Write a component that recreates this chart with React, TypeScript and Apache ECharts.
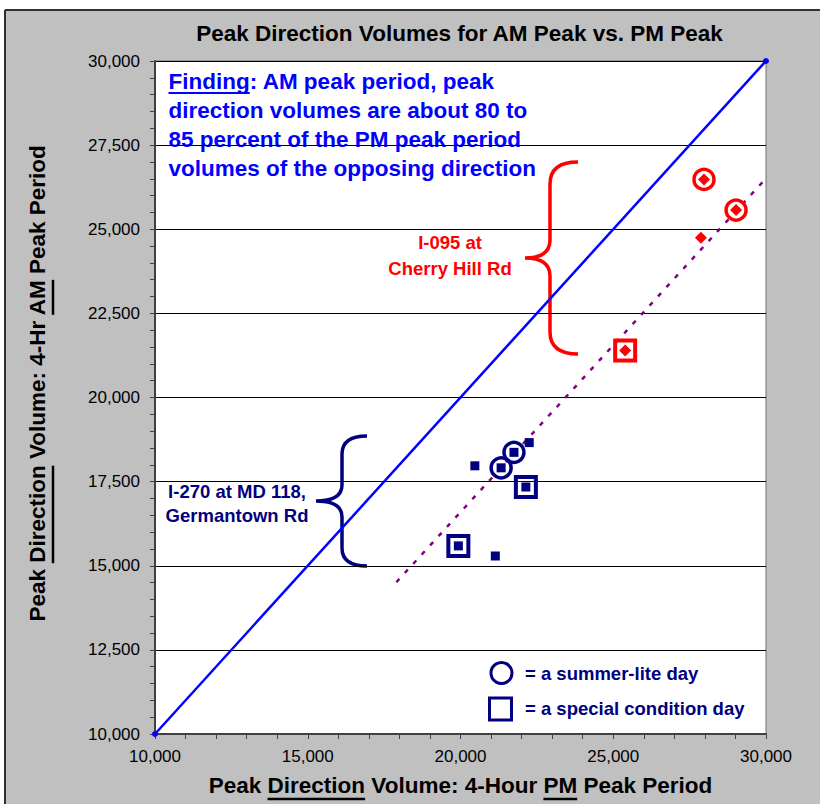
import React, { useEffect, useRef } from "react";
import * as echarts from "echarts";

// ---------- data ----------
const xTickValues = [10000, 15000, 20000, 25000, 30000];
const yTickValues = [10000, 12500, 15000, 17500, 20000, 22500, 25000, 27500, 30000];

// I-270 at MD 118, Germantown Rd (PM peak volume, AM peak volume)
const i270PM = [22250, 20470, 21330, 21750, 22140, 19930, 21140];
const i270AM = [18660, 17970, 17910, 18370, 17340, 15590, 15290];
const i270Day = ["", "", "summer", "summer", "special", "special", ""];

// I-095 at Cherry Hill Rd
const i095PM = [27970, 29020, 27870, 25390];
const i095AM = [26480, 25570, 24750, 21400];
const i095Day = ["summer", "summer", "", "special"];

// equality line and trend line
const equalPM = [10000, 30000];
const equalAM = [10000, 30000];
const trendPM = [17900, 30000];
const trendAM = [14510, 26510];

const titleText = "Peak Direction Volumes for AM Peak vs. PM Peak";
const xTitleParts = ["Peak ", "Direction", " Volume: 4-Hour ", "PM", " Peak Period"];
const yTitleParts = ["Peak ", "Direction", " Volume: 4-Hr ", "AM", " Peak Period"];
const findingLines = [
  "Finding: AM peak period, peak",
  "direction volumes are about 80 to",
  "85 percent of the PM peak period",
  "volumes of the opposing direction",
];
const findingUnderlined = "Finding";
const i095Label = ["I-095 at", "Cherry Hill Rd"];
const i270Label = ["I-270 at MD 118,", "Germantown Rd"];
const legendLabels = ["= a summer-lite day", "= a special condition day"];

// ---------- styles ----------
const FONT = 'Arial, "Liberation Sans", sans-serif';
const NAVY = "#000080";
const RED = "#ff0000";
const BLUE = "#0000ff";
const PURPLE = "#800080";
const BG = "#c0c0c0";
const AXIS = "#404040";

function braceD(W: number, H: number, s: number, r: number, r2: number) {
  const m = H / 2;
  return (
    `M ${W} 0 Q ${s} 0 ${s} ${r} L ${s} ${m - r2} Q ${s} ${m} 0 ${m} ` +
    `Q ${s} ${m} ${s} ${m + r2} L ${s} ${H - r} Q ${s} ${H} ${W} ${H}`
  );
}

echarts.graphic.registerShape(
  "braceRed",
  echarts.graphic.extendPath(braceD(53, 192, 25, 22, 18), {})
);
echarts.graphic.registerShape(
  "braceNavy",
  echarts.graphic.extendPath(braceD(51, 130, 26, 18, 16), {})
);

function measure(text: string, font: string): number {
  const c = document.createElement("canvas").getContext("2d");
  if (!c) return text.length * 10;
  c.font = font;
  return c.measureText(text).width;
}

function txt(text: string, x: number, y: number, size: number, color: string, align = "left", extra: any = {}) {
  return {
    type: "text",
    x,
    y,
    silent: true,
    ...extra,
    style: {
      text,
      fill: color,
      fontSize: size,
      fontWeight: "bold",
      fontFamily: FONT,
      textAlign: align,
      align,
      textVerticalAlign: "middle",
      verticalAlign: "middle",
    },
  };
}

function hline(x1: number, y1: number, x2: number, y2: number, color: string, w: number) {
  return { type: "line", silent: true, shape: { x1, y1, x2, y2 }, style: { stroke: color, lineWidth: w } };
}

const fmt = (v: number) => v.toLocaleString("en-US");

export default function App() {
  const ref = useRef<HTMLDivElement>(null);

  useEffect(() => {
    document.body.style.margin = "0";
    if (!ref.current) return;
    const chart = echarts.init(ref.current, null, { renderer: "svg" });

    const TS = 22.5;
    const boldFont = `bold ${TS}px ${FONT}`;
    const lblSize = 18.5;

    // x title
    const xFull = xTitleParts.join("");
    const xW = measure(xFull, boldFont);
    const xCenter = 460.5;
    const xStart = xCenter - xW / 2;
    const xTitleY = 785.5;
    const xU1a = xStart + measure(xTitleParts[0], boldFont);
    const xU1b = xU1a + measure(xTitleParts[1], boldFont);
    const xU2a = xStart + measure(xTitleParts.slice(0, 3).join(""), boldFont);
    const xU2b = xU2a + measure(xTitleParts[3], boldFont);

    // y title
    const yFull = yTitleParts.join("");
    const yW = measure(yFull, boldFont);
    const yBottom = 622;
    const yCenterY = yBottom - yW / 2;
    const yCenterX = 37;
    const yU1a = yBottom - measure(yTitleParts[0], boldFont);
    const yU1b = yU1a - measure(yTitleParts[1], boldFont);
    const yU2a = yBottom - measure(yTitleParts.slice(0, 3).join(""), boldFont);
    const yU2b = yU2a - measure(yTitleParts[3], boldFont);

    const findX = 168.5;
    const findBase = [89.5, 118.5, 147.5, 176.5];
    const fW = measure(findingUnderlined, boldFont);

    const elements: any[] = [
      { type: "rect", silent: true, shape: { x: 0, y: 0, width: 820, height: 10 }, style: { fill: "#fff" } },
      { type: "rect", silent: true, shape: { x: 0, y: 0, width: 5, height: 804 }, style: { fill: "#fff" } },
      hline(5, 10, 820, 10, "#303030", 2),
      hline(5, 10, 5, 804, "#303030", 2),
      txt(titleText, 459.5, 33.5, TS, "#000", "center"),
      // finding
      ...findingLines.map((l, i) => txt(l, findX, findBase[i] - 7.8, TS, BLUE, "left")),
      hline(findX, 93, findX + fW, 93, BLUE, 2),
      // x title
      txt(xFull, xStart, xTitleY, TS, "#000", "left"),
      hline(xU1a, 799, xU1b, 799, "#000", 2.5),
      hline(xU2a, 799, xU2b, 799, "#000", 2.5),
      // y title
      txt(yFull, yCenterX, yCenterY, TS, "#000", "center", { rotation: Math.PI / 2 }),
      hline(53, yU1a, 53, yU1b, "#000", 2.5),
      hline(53, yU2a, 53, yU2b, "#000", 2.5),
      // annotations
      txt(i095Label[0], 450, 242.5, lblSize, RED, "center"),
      txt(i095Label[1], 450, 268, lblSize, RED, "center"),
      txt(i270Label[0], 237, 491.5, lblSize, NAVY, "center"),
      txt(i270Label[1], 237, 515.5, lblSize, NAVY, "center"),
      { type: "braceRed", x: 525, y: 162, silent: true, style: { stroke: RED, lineWidth: 3.5, fill: "none" } },
      { type: "braceNavy", x: 316, y: 436, silent: true, style: { stroke: NAVY, lineWidth: 3.5, fill: "none" } },
      // legend
      { type: "circle", silent: true, shape: { cx: 501.5, cy: 673, r: 10.5 }, style: { stroke: NAVY, lineWidth: 3, fill: "none" } },
      { type: "rect", silent: true, shape: { x: 489.5, y: 698, width: 22, height: 22 }, style: { stroke: NAVY, lineWidth: 3, fill: "none" } },
      txt(legendLabels[0], 525, 673, lblSize, NAVY, "left"),
      txt(legendLabels[1], 525, 708.5, lblSize, NAVY, "left"),
    ];

    const pts = (xs: number[], ys: number[], flags?: string[], want?: string) =>
      xs.map((x, i) => [x, ys[i]]).filter((_, i) => !flags || flags[i] === want);

    const ring = (color: string) => ({ color: "rgba(0,0,0,0)", borderColor: color, borderWidth: 3.5, opacity: 1 });
    const box = (color: string) => ({ color: "rgba(0,0,0,0)", borderColor: color, borderWidth: 4, opacity: 1 });

    const axisCommon = {
      type: "value",
      axisLine: { show: true, onZero: false, lineStyle: { color: AXIS, width: 2 } },
      axisTick: { show: true, inside: false, length: 5, lineStyle: { color: AXIS, width: 1 } },
      minorTick: { show: true, splitNumber: 5, length: 5, lineStyle: { color: AXIS, width: 1 } },
      minorSplitLine: { show: false },
      axisLabel: { color: "#000", fontSize: 17, fontFamily: FONT, formatter: fmt },
    };

    const option: any = {
      animation: false,
      backgroundColor: BG,
      grid: {
        left: 155,
        top: 61,
        width: 611,
        height: 673,
        show: true,
        backgroundColor: "#fff",
        borderColor: "#707070",
        borderWidth: 1,
      },
      xAxis: {
        ...axisCommon,
        min: xTickValues[0],
        max: xTickValues[xTickValues.length - 1],
        interval: xTickValues[1] - xTickValues[0],
        splitLine: { show: false },
        axisLabel: { ...axisCommon.axisLabel, margin: 14 },
      },
      yAxis: {
        ...axisCommon,
        min: yTickValues[0],
        max: yTickValues[yTickValues.length - 1],
        interval: yTickValues[1] - yTickValues[0],
        splitLine: { show: true, lineStyle: { color: "#000", width: 1 } },
        axisLabel: { ...axisCommon.axisLabel, margin: 15 },
      },
      series: [
        {
          name: "AM = PM",
          type: "line",
          data: pts(equalPM, equalAM),
          symbol: "circle",
          symbolSize: 6,
          itemStyle: { color: BLUE, opacity: 1 },
          lineStyle: { color: BLUE, width: 2.5 },
          silent: true,
          z: 3,
        },
        {
          name: "Trend",
          type: "line",
          data: pts(trendPM, trendAM),
          symbol: "none",
          lineStyle: { color: PURPLE, width: 2.5, type: [4.5, 8] },
          silent: true,
          z: 3,
        },
        {
          name: "I-270 summer-lite",
          type: "scatter",
          data: pts(i270PM, i270AM, i270Day, "summer"),
          symbol: "circle",
          symbolSize: 20,
          itemStyle: ring(NAVY),
          z: 4,
        },
        {
          name: "I-270 special",
          type: "scatter",
          data: pts(i270PM, i270AM, i270Day, "special"),
          symbol: "rect",
          symbolSize: 20,
          itemStyle: box(NAVY),
          z: 4,
        },
        {
          name: "I-270 at MD 118",
          type: "scatter",
          data: pts(i270PM, i270AM),
          symbol: "rect",
          symbolSize: 9,
          itemStyle: { color: NAVY, opacity: 1 },
          z: 5,
        },
        {
          name: "I-095 summer-lite",
          type: "scatter",
          data: pts(i095PM, i095AM, i095Day, "summer"),
          symbol: "circle",
          symbolSize: 20,
          itemStyle: ring(RED),
          z: 4,
        },
        {
          name: "I-095 special",
          type: "scatter",
          data: pts(i095PM, i095AM, i095Day, "special"),
          symbol: "rect",
          symbolSize: 20,
          itemStyle: box(RED),
          z: 4,
        },
        {
          name: "I-095 at Cherry Hill Rd",
          type: "scatter",
          data: pts(i095PM, i095AM),
          symbol: "diamond",
          symbolSize: 12,
          itemStyle: { color: RED, opacity: 1 },
          z: 5,
        },
      ],
      graphic: { elements },
    };

    chart.setOption(option);
    return () => chart.dispose();
  }, []);

  return (
    <div
      ref={ref}
      style={{ position: "absolute", left: 0, top: 0, width: 820, height: 804 }}
    />
  );
}
